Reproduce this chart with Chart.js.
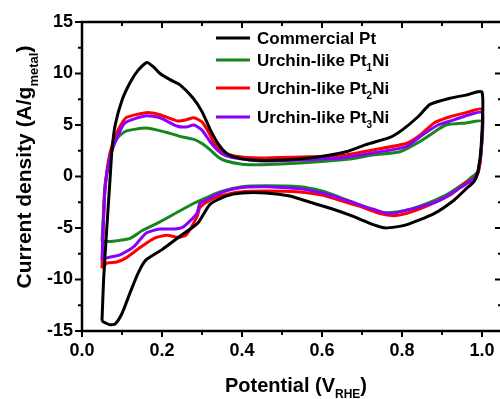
<!DOCTYPE html>
<html>
<head>
<meta charset="utf-8">
<script src="https://cdn.jsdelivr.net/npm/chart.js@4/dist/chart.umd.min.js"></script>
<style>
  html, body { margin: 0; padding: 0; background: #fff; overflow: hidden; }
</style>
</head>
<body>
<canvas id="cv" width="510" height="399"></canvas>
<script>
// axis ticks
const xTicks = [0, 0.2, 0.4, 0.6, 0.8, 1.0];
const yTicks = [-15, -10, -5, 0, 5, 10, 15];

// Commercial Pt: anodic sweep 0.05 -> 1.0 V, then cathodic back to 0.05 V
const ptV = [0.05, 0.054, 0.062, 0.07, 0.075, 0.083, 0.10, 0.12, 0.14, 0.1625, 0.18, 0.195, 0.22, 0.245, 0.278, 0.30, 0.32, 0.34, 0.36, 0.38, 0.42, 0.50, 0.59, 0.66, 0.71, 0.77, 0.80, 0.84, 0.87, 0.92, 0.96, 1.0,
             0.998, 0.99, 0.98, 0.96, 0.93, 0.88, 0.81, 0.76, 0.73, 0.68, 0.63, 0.57, 0.52, 0.46, 0.40, 0.36, 0.32, 0.29, 0.245, 0.20, 0.16, 0.14, 0.12, 0.10, 0.083, 0.07, 0.053, 0.05];
const ptJ = [-14.0, -10, -5, -0.3, 2.6, 5.0, 7.4, 9.1, 10.3, 11.07, 10.6, 10.0, 9.4, 8.9, 7.6, 6.3, 4.6, 3.2, 2.3, 1.9, 1.6, 1.6, 1.9, 2.4, 3.1, 3.8, 4.5, 5.8, 7.0, 7.6, 7.9, 8.2,
             3.0, 0.5, -0.5, -1.2, -2.3, -3.6, -4.7, -5.0, -4.7, -3.9, -3.2, -2.5, -1.9, -1.6, -1.6, -1.9, -2.7, -4.5, -5.8, -7.1, -8.1, -9.4, -11.3, -13.3, -14.3, -14.4, -14.1, -14.0];

// Urchin-like Pt1Ni
const pt1V = [0.05, 0.053, 0.057, 0.063, 0.07, 0.078, 0.09, 0.11, 0.16, 0.21, 0.245, 0.28, 0.30, 0.32, 0.34, 0.36, 0.40, 0.45, 0.545, 0.67, 0.73, 0.795, 0.845, 0.88, 0.91, 0.96, 1.0,
              0.998, 0.99, 0.97, 0.95, 0.91, 0.85, 0.795, 0.75, 0.71, 0.67, 0.63, 0.60, 0.545, 0.46, 0.40, 0.345, 0.32, 0.28, 0.237, 0.195, 0.153, 0.12, 0.095, 0.07, 0.05];
const pt1J = [-6.3, -4.0, -1.0, 0.5, 1.8, 2.9, 3.8, 4.4, 4.7, 4.3, 3.9, 3.6, 3.2, 2.6, 1.9, 1.5, 1.2, 1.15, 1.3, 1.7, 2.1, 2.4, 3.4, 4.3, 5.0, 5.2, 5.35,
              2.5, 0.5, -0.2, -0.8, -1.8, -2.8, -3.4, -3.5, -3.0, -2.4, -1.8, -1.4, -1.0, -0.9, -1.0, -1.5, -1.9, -2.6, -3.5, -4.4, -5.2, -6.0, -6.2, -6.3, -6.3];

// Urchin-like Pt2Ni
const pt2V = [0.05, 0.053, 0.057, 0.062, 0.07, 0.08, 0.09, 0.11, 0.16, 0.195, 0.237, 0.26, 0.28, 0.30, 0.315, 0.33, 0.35, 0.38, 0.445, 0.545, 0.645, 0.73, 0.81, 0.845, 0.88, 0.92, 0.96, 1.0,
              0.998, 0.99, 0.975, 0.96, 0.92, 0.86, 0.81, 0.78, 0.745, 0.695, 0.645, 0.60, 0.545, 0.46, 0.395, 0.345, 0.32, 0.295, 0.2875, 0.26, 0.2375, 0.2125, 0.18, 0.145, 0.11, 0.087, 0.062, 0.05];
const pt2J = [-8.9, -5.0, -1.5, 0.5, 2.3, 3.6, 4.5, 5.7, 6.2, 6.0, 5.4, 5.5, 5.7, 5.3, 4.4, 3.3, 2.4, 2.0, 1.8, 1.9, 2.0, 2.6, 3.2, 4.0, 5.2, 5.8, 6.2, 6.5,
              2.5, 0.3, -0.3, -0.6, -1.8, -2.9, -3.6, -3.8, -3.6, -2.9, -2.3, -1.8, -1.5, -1.4, -1.5, -1.9, -2.3, -3.0, -3.9, -5.7, -5.9, -5.7, -6.0, -6.9, -7.9, -8.3, -8.4, -8.9];

// Urchin-like Pt3Ni
const pt3V = [0.05, 0.053, 0.057, 0.063, 0.072, 0.087, 0.107, 0.16, 0.195, 0.237, 0.26, 0.28, 0.30, 0.32, 0.34, 0.36, 0.40, 0.46, 0.545, 0.645, 0.73, 0.81, 0.85, 0.89, 0.93, 0.96, 1.0,
              0.998, 0.99, 0.98, 0.945, 0.895, 0.84, 0.77, 0.73, 0.69, 0.645, 0.60, 0.545, 0.46, 0.395, 0.345, 0.32, 0.295, 0.287, 0.253, 0.23, 0.195, 0.16, 0.13, 0.095, 0.062, 0.05];
const pt3J = [-8.1, -5.0, -1.5, 0.5, 2.2, 3.7, 5.2, 5.9, 5.7, 4.9, 4.8, 5.0, 4.5, 3.4, 2.5, 2.0, 1.7, 1.5, 1.6, 1.8, 2.3, 2.9, 4.0, 5.0, 5.5, 5.9, 6.2,
              2.5, 0.5, -0.2, -1.1, -2.3, -3.0, -3.6, -3.2, -2.7, -2.1, -1.6, -1.2, -1.0, -1.1, -1.6, -2.1, -2.6, -3.6, -4.9, -5.1, -5.1, -5.5, -6.8, -7.6, -7.9, -8.1];

const seriesNames = ['Commercial Pt', 'Urchin-like Pt1Ni', 'Urchin-like Pt2Ni', 'Urchin-like Pt3Ni'];
const legendMain = ['Commercial Pt', 'Urchin-like Pt', 'Urchin-like Pt', 'Urchin-like Pt'];
const legendSub = ['', '1', '2', '3'];
const legendTail = ['', 'Ni', 'Ni', 'Ni'];
const colors = ['#000000', '#17871b', '#ff0000', '#8a00ff'];

const FONT = '"Liberation Sans", Arial, sans-serif';

function toPoints(vs, js) {
    return vs.map((v, i) => ({ x: v, y: js[i] }));
}

const allSeries = [[ptV, ptJ], [pt1V, pt1J], [pt2V, pt2J], [pt3V, pt3J]];
const drawOrder = [0, 3, 2, 1];

// text pieces with subscripts, left aligned at x, baseline y
function richWidth(ctx, parts, size) {
    let w = 0;
    parts.forEach(p => {
        ctx.font = 'bold ' + (p.sub ? Math.round(size * 0.6) : size) + 'px ' + FONT;
        w += ctx.measureText(p.t).width;
    });
    return w;
}
function drawRich(ctx, parts, x, y, size) {
    parts.forEach(p => {
        ctx.font = 'bold ' + (p.sub ? Math.round(size * 0.6) : size) + 'px ' + FONT;
        ctx.fillText(p.t, x, p.sub ? y + size * 0.32 : y);
        x += ctx.measureText(p.t).width;
    });
}

const framePlugin = {
    id: 'frame',
    afterDatasetsDraw(chart) {
        const { ctx, chartArea: a, scales: { x, y } } = chart;
        ctx.save();
        ctx.strokeStyle = '#000';
        ctx.lineWidth = 2.5;
        ctx.strokeRect(a.left, a.top, a.right - a.left, a.bottom - a.top);

        ctx.lineWidth = 2;
        ctx.beginPath();
        for (let i = 0; i <= 10; i++) {
            const px = x.getPixelForValue(i / 10);
            const len = i % 2 === 0 ? 6 : 4;
            ctx.moveTo(px, a.bottom); ctx.lineTo(px, a.bottom + len);
            ctx.moveTo(px, a.top); ctx.lineTo(px, a.top + len);
        }
        for (let i = -6; i <= 6; i++) {
            const py = y.getPixelForValue(i * 2.5);
            const len = i % 2 === 0 ? 7 : 4;
            ctx.moveTo(a.left, py); ctx.lineTo(a.left - len, py);
            ctx.moveTo(a.right, py); ctx.lineTo(a.right - len, py);
        }
        ctx.stroke();

        ctx.fillStyle = '#000';
        ctx.textAlign = 'left';
        ctx.textBaseline = 'alphabetic';

        // x axis title
        const xParts = [{ t: 'Potential (V' }, { t: 'RHE', sub: true }, { t: ')' }];
        const xw = richWidth(ctx, xParts, 20);
        drawRich(ctx, xParts, 296 - xw / 2, 392, 20);

        // y axis title
        const yParts = [{ t: 'Current density (A/g' }, { t: 'metal', sub: true }, { t: ')' }];
        const yw = richWidth(ctx, yParts, 21);
        ctx.save();
        ctx.translate(31, 167);
        ctx.rotate(-Math.PI / 2);
        drawRich(ctx, yParts, -yw / 2, 0, 21);
        ctx.restore();

        // legend
        const rowY = [38, 60, 88, 117];
        seriesNames.forEach((name, i) => {
            ctx.strokeStyle = colors[i];
            ctx.lineWidth = 3;
            ctx.beginPath();
            ctx.moveTo(216, rowY[i]);
            ctx.lineTo(250, rowY[i]);
            ctx.stroke();
            const parts = [{ t: legendMain[i] }];
            if (legendSub[i]) parts.push({ t: legendSub[i], sub: true }, { t: legendTail[i] });
            drawRich(ctx, parts, 257, rowY[i] + 6, 17);
        });
        ctx.restore();
    }
};

const tickFont = { family: FONT, weight: 'bold', size: 18 };

new Chart(document.getElementById('cv'), {
    type: 'scatter',
    data: {
        datasets: allSeries.map(([vs, js], i) => ({
            label: seriesNames[i],
            data: toPoints(vs, js),
            showLine: true,
            borderColor: colors[i],
            backgroundColor: colors[i],
            borderWidth: 3,
            pointRadius: 0,
            tension: 0.2,
            order: drawOrder[i]
        }))
    },
    options: {
        responsive: false,
        animation: false,
        devicePixelRatio: 1,
        layout: { padding: { top: 22, right: 8, left: 0, bottom: 0 } },
        plugins: {
            legend: { display: false },
            tooltip: { enabled: false }
        },
        scales: {
            x: {
                type: 'linear',
                min: 0,
                max: 1.05,
                afterBuildTicks: s => { s.ticks = xTicks.map(v => ({ value: v })); },
                afterFit: s => { s.height = 68; },
                grid: { display: false, drawTicks: false },
                border: { display: false },
                ticks: {
                    color: '#000',
                    font: tickFont,
                    padding: 9,
                    maxRotation: 0,
                    callback: v => v.toFixed(1)
                }
            },
            y: {
                type: 'linear',
                min: -15,
                max: 15,
                afterBuildTicks: s => { s.ticks = yTicks.map(v => ({ value: v })); },
                afterFit: s => { s.width = 82; },
                grid: { display: false, drawTicks: false },
                border: { display: false },
                ticks: {
                    color: '#000',
                    font: tickFont,
                    padding: 9,
                    callback: v => String(v)
                }
            }
        }
    },
    plugins: [framePlugin]
});
</script>
</body>
</html>
